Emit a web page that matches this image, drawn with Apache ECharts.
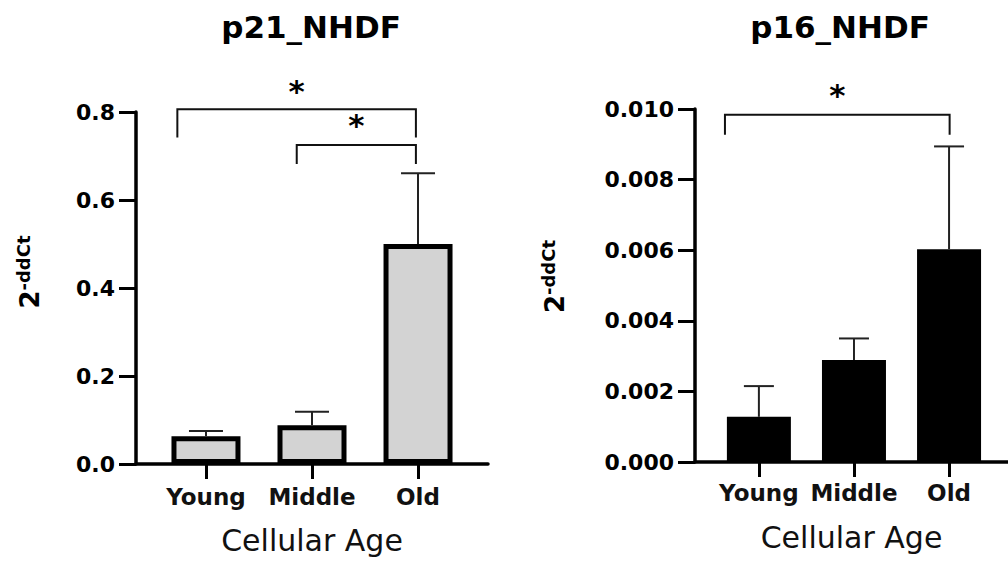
<!DOCTYPE html>
<html>
<head>
<meta charset="utf-8">
<script src="https://cdn.jsdelivr.net/npm/echarts@6/dist/echarts.min.js"></script>
<style>
  html, body { margin: 0; padding: 0; background: #fff; }
  #main { width: 1008px; height: 562px; }
</style>
</head>
<body>
<div id="main"></div>
<script>
const categories = ['Young', 'Middle', 'Old'];
const p21Mean = [0.063, 0.088, 0.50];
const p21Sd = [0.012, 0.031, 0.161];
const p16Mean = [0.00128, 0.00289, 0.00603];
const p16Sd = [0.00087, 0.00061, 0.00291];
// significance brackets: [from, to, bracket height, leg end, star height]
const p21Brackets = [[-0.27, 1.98, 0.806, 0.742, 0.852], [0.856, 1.98, 0.725, 0.682, 0.774]];
const p16Brackets = [[-0.357, 2.006, 0.00984, 0.00927, 0.01045]];

const FONT = 'DejaVu Sans';
let chart = echarts.init(document.getElementById('main'), null, { renderer: 'svg' });

function yAxisCfg(idx, max, interval, digits, nameGap, namePad) {
  return {
    gridIndex: idx,
    type: 'value',
    min: 0,
    max: max,
    interval: interval,
    axisLine: { show: true, onZero: false, lineStyle: { color: '#000', width: 3.5 } },
    axisTick: { show: true, length: 17, lineStyle: { color: '#000', width: 3 } },
    axisLabel: {
      margin: 21,
      formatter: v => v.toFixed(digits),
      fontFamily: FONT, fontSize: 22, fontWeight: 'bold', color: '#000'
    },
    splitLine: { show: false },
    name: '{a|2}{b|-ddCt}',
    nameLocation: 'middle',
    nameGap: nameGap,
    nameTextStyle: {
      padding: [0, 0, 0, namePad],
      rich: {
        a: { fontFamily: FONT, fontSize: 26, fontWeight: 'bold', color: '#000' },
        b: { fontFamily: FONT, fontSize: 18, fontWeight: 'bold', color: '#000', padding: [0, 0, 13, 0] }
      }
    }
  };
}

function xAxisCfg(idx, min, max, margin, nameGap) {
  return {
    gridIndex: idx,
    type: 'value',
    min: min,
    max: max,
    axisLine: { show: true, onZero: false, lineStyle: { color: '#000', width: 3.5 } },
    axisTick: { show: true, customValues: [0, 1, 2], length: 15, lineStyle: { color: '#000', width: 3 } },
    axisLabel: {
      customValues: [0, 1, 2],
      formatter: v => categories[Math.round(v)],
      margin: margin,
      fontFamily: FONT, fontSize: 23, fontWeight: 'bold', color: '#111'
    },
    splitLine: { show: false },
    name: 'Cellular Age',
    nameLocation: 'middle',
    nameGap: nameGap,
    nameTextStyle: { fontFamily: FONT, fontSize: 30, color: '#111' }
  };
}

function barSeries(idx, mean, width, style) {
  return {
    type: 'bar',
    xAxisIndex: idx,
    yAxisIndex: idx,
    barWidth: width,
    data: mean.map((m, i) => [i, m]),
    itemStyle: style
  };
}

// error bars (upper only)
function errorSeries(idx, mean, sd, cap) {
  return {
    type: 'custom',
    xAxisIndex: idx,
    yAxisIndex: idx,
    z: 5,
    data: mean.map((m, i) => [i, m, m + sd[i]]),
    renderItem: (params, api) => {
      const base = api.coord([api.value(0), api.value(1)]);
      const top = api.coord([api.value(0), api.value(2)]);
      const st = { stroke: '#222', lineWidth: 2 };
      return {
        type: 'group',
        children: [
          { type: 'line', shape: { x1: base[0], y1: base[1], x2: top[0], y2: top[1] }, style: st },
          { type: 'line', shape: { x1: top[0] - cap / 2, y1: top[1], x2: top[0] + cap / 2, y2: top[1] }, style: st }
        ]
      };
    }
  };
}

function bracketSeries(idx, brackets) {
  return {
    type: 'custom',
    xAxisIndex: idx,
    yAxisIndex: idx,
    z: 5,
    clip: false,
    data: brackets,
    renderItem: (params, api) => {
      const x1 = api.value(0), x2 = api.value(1);
      const l = api.coord([x1, api.value(3)]);
      const tl = api.coord([x1, api.value(2)]);
      const tr = api.coord([x2, api.value(2)]);
      const r = api.coord([x2, api.value(3)]);
      const s = api.coord([(x1 + x2) / 2, api.value(4)]);
      return {
        type: 'group',
        children: [
          { type: 'polyline', shape: { points: [l, tl, tr, r] }, style: { stroke: '#111', lineWidth: 2, fill: null } },
          {
            type: 'text',
            style: {
              text: '*', x: s[0], y: s[1] + 2, align: 'center', verticalAlign: 'middle',
              fontFamily: FONT, fontSize: 31, fontWeight: 'bold', fill: '#000'
            }
          }
        ]
      };
    }
  };
}

const titleStyle = { fontFamily: FONT, fontSize: 31, fontWeight: 'bold', color: '#000' };

let option = {
  animation: false,
  backgroundColor: '#fff',
  title: [
    { text: 'p21_NHDF', left: 311, top: 11, textAlign: 'center', padding: 0, textStyle: titleStyle },
    { text: 'p16_NHDF', left: 840, top: 11, textAlign: 'center', padding: 0, textStyle: titleStyle }
  ],
  grid: [
    { left: 136, right: 520, top: 112, bottom: 98 },
    { left: 695, right: 0, top: 109, bottom: 100 }
  ],
  xAxis: [
    xAxisCfg(0, -0.66, 2.66, 21, 61),
    xAxisCfg(1, -0.672, 2.62, 19, 60)
  ],
  yAxis: [
    yAxisCfg(0, 0.8, 0.2, 1, 91, 32),
    yAxisCfg(1, 0.010, 0.002, 3, 125, 18)
  ],
  series: [
    barSeries(0, p21Mean, 69, { color: '#d3d3d3', borderColor: '#000', borderWidth: 5 }),
    errorSeries(0, p21Mean, p21Sd, 34),
    bracketSeries(0, p21Brackets),
    barSeries(1, p16Mean, 64, { color: '#000' }),
    errorSeries(1, p16Mean, p16Sd, 30),
    bracketSeries(1, p16Brackets)
  ]
};

chart.setOption(option);
</script>
</body>
</html>
